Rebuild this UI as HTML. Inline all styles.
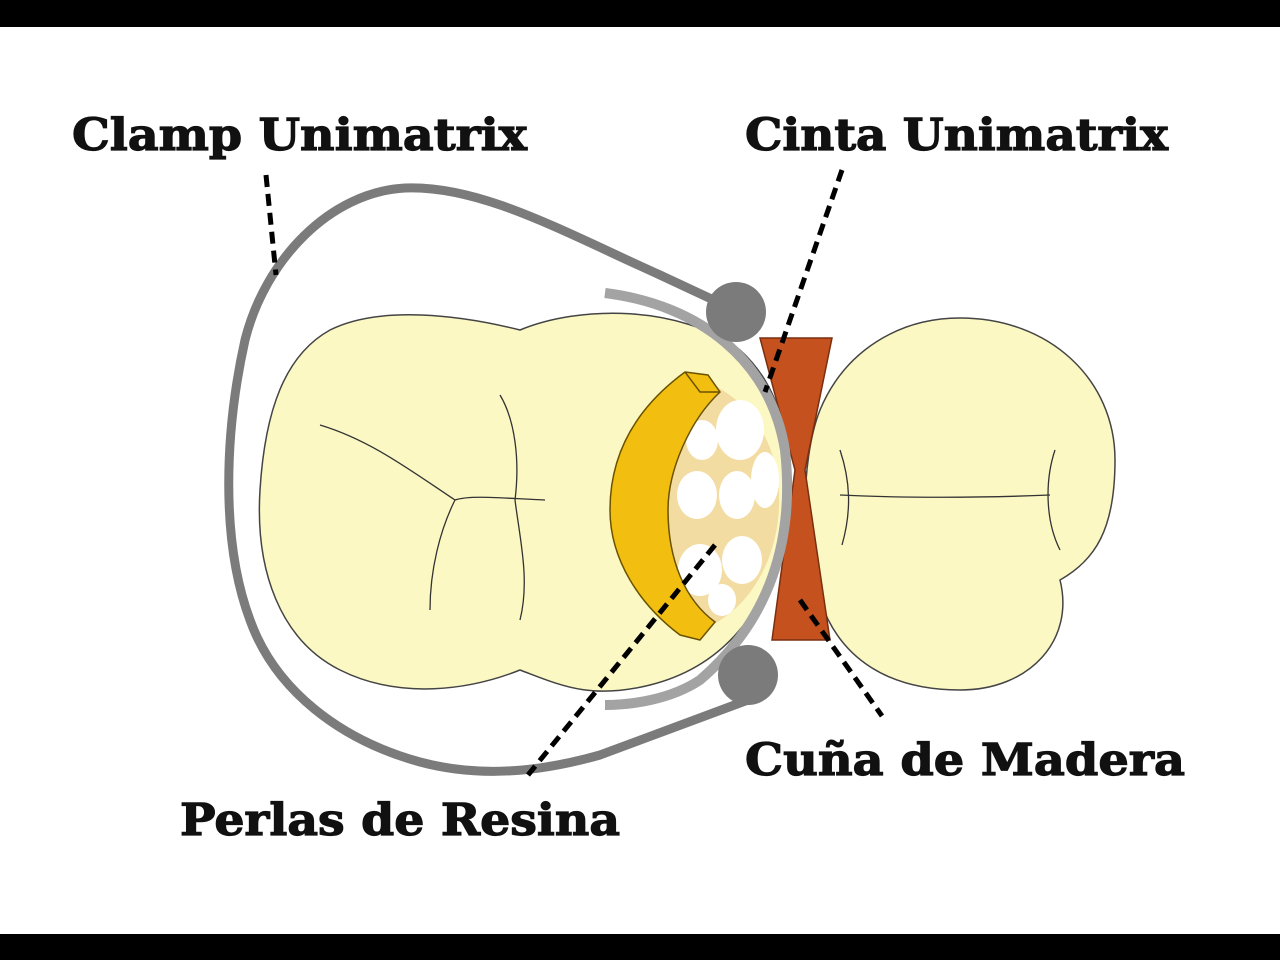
<!DOCTYPE html>
<html><head><style>html,body{margin:0;padding:0;background:#fff}svg{display:block}</style></head>
<body>
<svg width="1280" height="960" viewBox="0 0 1280 960" xmlns="http://www.w3.org/2000/svg">
<rect width="1280" height="960" fill="#fff"/>
<rect x="0" y="0" width="1280" height="27" fill="#000"/>
<rect x="0" y="934" width="1280" height="26" fill="#000"/>

<!-- left tooth -->
<path d="M330,330 C380,305 460,315 520,330 C580,305 680,305 740,350 C790,395 795,470 785,520 C775,600 730,665 650,685 C590,700 560,685 520,670 C470,690 400,700 340,670 C280,640 255,570 260,490 C265,410 285,355 330,330 Z" fill="#fbf8c4" stroke="#444" stroke-width="1.5"/>
<g fill="none" stroke="#333" stroke-width="1.3">
<path d="M320,425 C370,440 410,470 455,500"/>
<path d="M500,395 C515,420 520,460 515,500"/>
<path d="M455,500 C470,495 500,498 545,500"/>
<path d="M455,500 C440,530 430,570 430,610"/>
<path d="M515,500 C520,540 530,580 520,620"/>
</g>
<!-- right tooth -->
<path d="M960,318 C1050,318 1115,380 1115,460 C1115,530 1095,560 1060,580 C1075,640 1030,690 960,690 C890,690 840,660 820,600 C800,560 800,460 820,410 C845,350 900,318 960,318 Z" fill="#fbf8c4" stroke="#444" stroke-width="1.5"/>
<g fill="none" stroke="#333" stroke-width="1.3">
<path d="M840,495 C900,498 980,498 1050,495"/>
<path d="M840,450 C850,480 852,510 842,545"/>
<path d="M1055,450 C1045,480 1045,520 1060,550"/>
</g>

<!-- wedge -->
<path d="M760,338 L832,338 L805,470 L830,640 L772,640 L795,470 Z" fill="#c4511e" stroke="#7a2f10" stroke-width="1.5"/>

<!-- resin fill -->
<path d="M685,375 C730,385 770,420 778,480 C785,540 760,600 712,625 C680,600 665,550 665,500 C665,440 672,400 685,375 Z" fill="#f3dca2"/>
<g fill="#fff">
<ellipse cx="740" cy="430" rx="24" ry="30"/>
<ellipse cx="702" cy="440" rx="16" ry="20"/>
<ellipse cx="697" cy="495" rx="20" ry="24"/>
<ellipse cx="737" cy="495" rx="18" ry="24"/>
<ellipse cx="765" cy="480" rx="14" ry="28"/>
<ellipse cx="700" cy="570" rx="22" ry="26"/>
<ellipse cx="742" cy="560" rx="20" ry="24"/>
<ellipse cx="722" cy="600" rx="14" ry="16"/>
</g>
<!-- crescent -->
<path d="M685,372 L708,375 L720,392 C690,420 668,470 668,510 C668,560 685,600 715,622 L700,640 L680,635 C640,605 610,560 610,510 C610,450 640,405 685,372 Z" fill="#f2bf10" stroke="#6a5200" stroke-width="1.5"/>
<path d="M685,372 L700,392 L720,392" fill="none" stroke="#6a5200" stroke-width="1.5"/>

<!-- matrix band -->
<path d="M605,293 C700,305 770,360 785,450 C795,540 770,620 700,680 C670,700 630,705 605,705" fill="none" stroke="#a3a3a3" stroke-width="10"/>

<!-- clamp -->
<path d="M735,310 L660,275 C560,230 480,185 405,188 C330,192 265,260 245,340 C225,430 220,540 250,620 C275,690 340,740 420,762 C480,778 540,772 600,755 L748,700" fill="none" stroke="#7b7b7b" stroke-width="9"/>
<circle cx="736" cy="312" r="30" fill="#7b7b7b"/>
<circle cx="748" cy="675" r="30" fill="#7b7b7b"/>

<!-- dashed leaders -->
<g stroke="#000" stroke-width="5" stroke-dasharray="12,7" fill="none">
<line x1="266" y1="175" x2="276" y2="275"/>
<line x1="842" y1="170" x2="765" y2="392"/>
<line x1="715" y1="545" x2="528" y2="775"/>
<line x1="800" y1="600" x2="882" y2="716"/>
</g>

<g font-family="'DejaVu Serif','Liberation Serif',serif" font-weight="bold" font-size="44" fill="#111" stroke="#111" stroke-width="1.2">
<text x="72" y="150" textLength="455" lengthAdjust="spacingAndGlyphs">Clamp Unimatrix</text>
<text x="745" y="150" textLength="423" lengthAdjust="spacingAndGlyphs">Cinta Unimatrix</text>
<text x="745" y="775" textLength="440" lengthAdjust="spacingAndGlyphs">Cuña de Madera</text>
<text x="180" y="835" textLength="440" lengthAdjust="spacingAndGlyphs">Perlas de Resina</text>
</g>
</svg>
</body></html>
